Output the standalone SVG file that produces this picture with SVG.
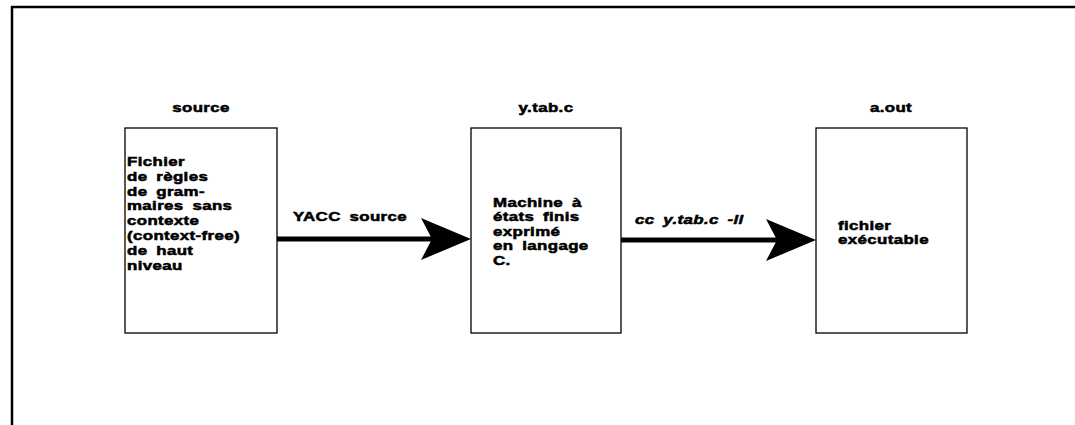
<svg xmlns="http://www.w3.org/2000/svg" width="1075" height="425" viewBox="0 0 1075 425">
  <style>
    .frame { fill: none; stroke: #000; stroke-width: 2.5; }
    .box { fill: #fff; stroke: #000; stroke-width: 1.3; }
    .t { font-family: "Liberation Sans", Arial, sans-serif; font-weight: bold; font-size: 13.5px; letter-spacing: 0.3px; word-spacing: 3px; fill: #000; stroke: #000; stroke-width: 0.55; }
    .title { text-anchor: middle; }
    .it { font-style: italic; }
    .shaft { stroke: #000; stroke-width: 5; fill: none; }
  </style>
  <defs>
    <marker id="head" markerUnits="userSpaceOnUse" markerWidth="52" markerHeight="42" viewBox="0 0 52 42" refX="18" refY="21" orient="auto">
      <path d="M0,0 L50,21 L0,42 L11,21 Z" fill="#000"/>
    </marker>
  </defs>

  <!-- outer frame: only top and left edges are drawn -->
  <path class="frame" d="M12,425 L12,7 L1075,7"/>

  <g id="node-source">
    <rect class="box" x="125" y="128" width="152" height="205"/>
    <g transform="translate(201,0) scale(1.25,1)">
      <text class="t title" x="0" y="112">source</text>
    </g>
    <g transform="translate(127,0) scale(1.25,1)">
      <text class="t" x="0" y="166">Fichier</text>
      <text class="t" x="0" y="180.8">de  règles</text>
      <text class="t" x="0" y="195.6">de gram-</text>
      <text class="t" x="0" y="210.4">maires sans</text>
      <text class="t" x="0" y="225.2">contexte</text>
      <text class="t" x="0" y="240">(context-free)</text>
      <text class="t" x="0" y="254.8">de haut</text>
      <text class="t" x="0" y="269.6">niveau</text>
    </g>
  </g>

  <g id="node-ytabc">
    <rect class="box" x="471" y="128" width="150" height="205"/>
    <g transform="translate(546,0) scale(1.25,1)">
      <text class="t title" x="0" y="112">y.tab.c</text>
    </g>
    <g transform="translate(493,0) scale(1.25,1)">
      <text class="t" x="0" y="207">Machine à</text>
      <text class="t" x="0" y="221.5">états finis</text>
      <text class="t" x="0" y="236">exprimé</text>
      <text class="t" x="0" y="250.5">en langage</text>
      <text class="t" x="0" y="265">C.</text>
    </g>
  </g>

  <g id="node-aout">
    <rect class="box" x="816" y="128" width="151" height="205"/>
    <g transform="translate(891,0) scale(1.25,1)">
      <text class="t title" x="0" y="112">a.out</text>
    </g>
    <g transform="translate(838,0) scale(1.25,1)">
      <text class="t" x="0" y="230">fichier</text>
      <text class="t" x="0" y="244.5">exécutable</text>
    </g>
  </g>

  <g id="connectors">
    <line class="shaft" x1="277" y1="239" x2="439" y2="239" marker-end="url(#head)"/>
    <g transform="translate(293,0) scale(1.25,1)">
      <text class="t" x="0" y="221">YACC source</text>
    </g>
    <line class="shaft" x1="621" y1="240" x2="784" y2="240" marker-end="url(#head)"/>
    <g transform="translate(635,0) scale(1.25,1)">
      <text class="t it" x="0" y="224">cc  y.tab.c  -ll</text>
    </g>
  </g>
</svg>
